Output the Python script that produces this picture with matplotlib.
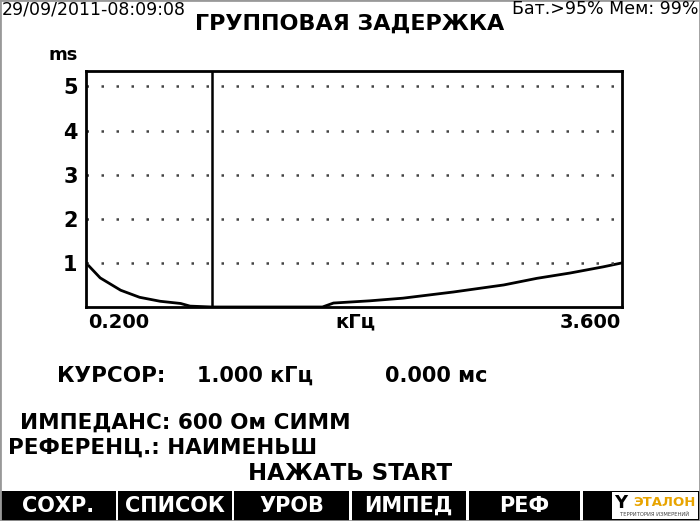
import matplotlib
matplotlib.use('Agg')
import matplotlib.pyplot as plt
from matplotlib.patches import Rectangle

# group delay readout (kHz -> ms)
freq_khz = [0.2, 0.29, 0.42, 0.54, 0.67, 0.8, 0.86, 1.0, 1.4, 1.7, 1.77,
            2.0, 2.21, 2.53, 2.85, 3.06, 3.27, 3.48, 3.6]
delay_ms = [1.0, 0.66, 0.38, 0.22, 0.13, 0.08, 0.02, 0.0, 0.0, 0.0, 0.09,
            0.14, 0.2, 0.34, 0.5, 0.65, 0.77, 0.91, 1.0]
y_ticks = [1, 2, 3, 4, 5]
cursor_khz = 1.0
soft_keys = ['СОХР.', 'СПИСОК', 'УРОВ', 'ИМПЕД', 'РЕФ']

plt.rcParams['font.family'] = ['DejaVu Sans']

W, H = 700, 521
fig = plt.figure(figsize=(W / 100, H / 100), dpi=100)


def px(x, y):
    return x / W, 1 - y / H


def label(x, y, s, size, ha='left', color='black', weight='bold'):
    fx, fy = px(x, y)
    fig.text(fx, fy, s, ha=ha, va='center', fontsize=size, color=color,
             fontweight=weight)


# plot area
ax = fig.add_axes([86 / W, 1 - 307 / H, 536 / W, 235.5 / H])
ax.plot(freq_khz, delay_ms, color='black', linewidth=2)
ax.axvline(cursor_khz, color='black', linewidth=1.8)
for v in y_ticks:
    ax.axhline(v, color='#444444', linewidth=1.8, linestyle=(0, (1, 5)))
ax.set_xlim(0.2, 3.6)
ax.set_ylim(0, 5.34)
ax.set_xticks([])
ax.set_yticks(y_ticks)
ax.set_yticklabels([str(v) for v in y_ticks], fontsize=15, fontweight='bold')
ax.tick_params(axis='y', length=0, pad=6)
for sp in ax.spines.values():
    sp.set_linewidth(2)

# header
label(2, 9, '29/09/2011-08:09:08', 12.5, weight='normal')
label(698, 9, 'Бат.>95% Мем: 99%', 12.5, ha='right', weight='normal')
label(350, 24, 'ГРУППОВАЯ ЗАДЕРЖКА', 16, ha='center')
label(63, 55, 'ms', 13, ha='center')

# x axis labels
label(88, 322, '0.200', 14)
label(355, 322, 'кГц', 14, ha='center')
label(621, 322, '3.600', 14, ha='right')

# status text
label(57, 376, 'КУРСОР:', 15.5)
label(197, 376, '1.000 кГц', 15)
label(385, 376, '0.000 мс', 15)
label(20, 423, 'ИМПЕДАНС: 600 Ом СИММ', 15.5)
label(8, 448, 'РЕФЕРЕНЦ.: НАИМЕНЬШ', 15.5)
label(350, 474, 'НАЖАТЬ START', 16.5, ha='center')

# soft key bar
fig.patches.append(Rectangle(px(0, 521), 1, 30 / H, transform=fig.transFigure,
                             facecolor='black', edgecolor='none'))
seps = [117, 233, 350, 467, 581]
for s in seps:
    fig.patches.append(Rectangle(px(s - 1, 521), 2.5 / W, 30 / H,
                                 transform=fig.transFigure,
                                 facecolor='white', edgecolor='none'))
edges = [0] + seps
for i, key in enumerate(soft_keys):
    label((edges[i] + edges[i + 1]) / 2, 506, key, 15, ha='center', color='white')

# logo box
fig.patches.append(Rectangle(px(612, 519), 86 / W, 27 / H, transform=fig.transFigure,
                             facecolor='white', edgecolor='none'))
label(621, 503, 'Y', 13, ha='center')
label(664, 502, 'ЭТАЛОН', 9.5, ha='center', color='#e8a400')
label(655, 514, 'ТЕРРИТОРИЯ ИЗМЕРЕНИЙ', 3.8, ha='center', color='#444444',
      weight='normal')

# screen border
fig.patches.append(Rectangle((0, 0), 1, 1, transform=fig.transFigure,
                             facecolor='none', edgecolor='#999999', linewidth=2))

fig.savefig('out.png', dpi=100)
